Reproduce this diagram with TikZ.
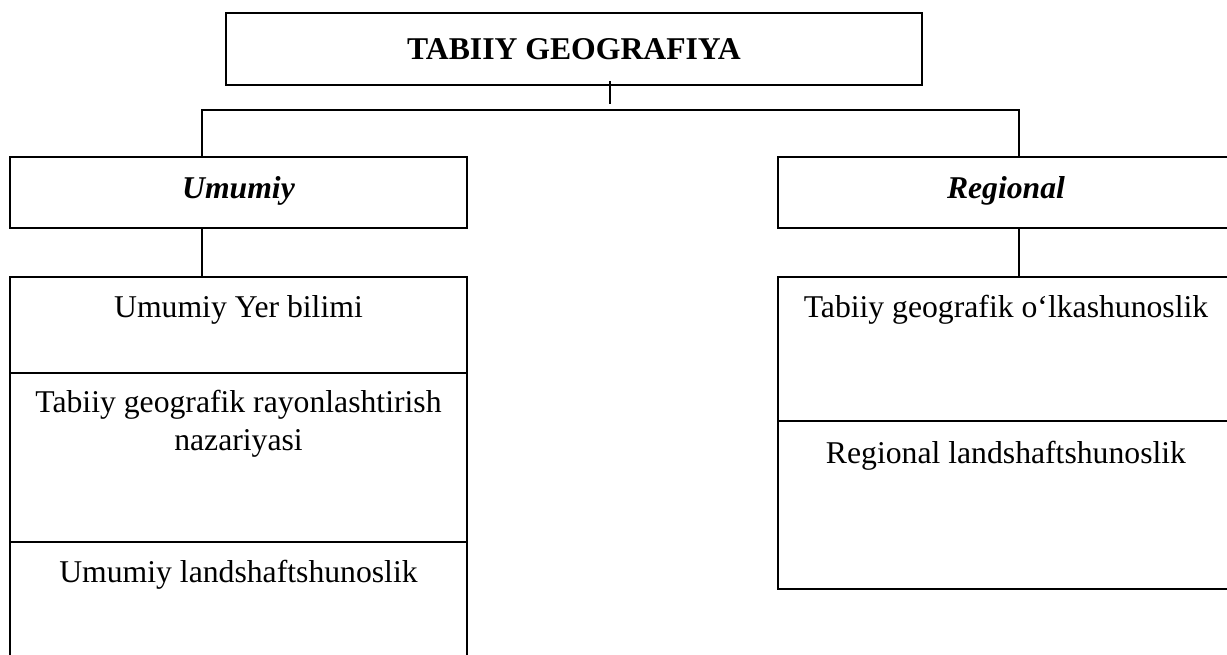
\documentclass[tikz,border=0pt]{standalone}
\usepackage{fontspec}
\setmainfont{Liberation Serif}
\begin{document}
\begin{tikzpicture}[x=1pt,y=-1pt,
  box/.style={draw,line width=1.5pt,rectangle,inner sep=0pt,outer sep=0pt},
  lbl/.style={inner sep=0pt,anchor=base,align=center,font=\fontsize{31.7}{38}\selectfont},
  conn/.style={line width=1.5pt}]
\useasboundingbox (0,0) rectangle (1227,655);
\clip (0,0) rectangle (1227,655);
% boxes
\node[box,minimum width=696pt,minimum height=72pt] (top) at (574,49) {};
\node[box,minimum width=457pt,minimum height=71pt] (U) at (238.5,192.5) {};
\node[box,minimum width=456pt,minimum height=71pt] (R) at (1006,192.5) {};
\node[box,minimum width=457pt,minimum height=96pt] (A1) at (238.5,325) {};
\node[box,minimum width=457pt,minimum height=169pt] (A2) at (238.5,457.5) {};
\node[box,minimum width=457pt,minimum height=158pt] (A3) at (238.5,621) {};
\node[box,minimum width=456pt,minimum height=144pt] (B1) at (1006,349) {};
\node[box,minimum width=456pt,minimum height=168pt] (B2) at (1006,505) {};
% texts
\node[lbl,font=\fontsize{31.7}{38}\selectfont\bfseries] (tt) at (574,60) {TABIIY GEOGRAFIYA};
\node[lbl,font=\fontsize{31.7}{38}\selectfont\bfseries\itshape] (tU) at (238.5,199) {Umumiy};
\node[lbl,font=\fontsize{31.7}{38}\selectfont\bfseries\itshape] (tR) at (1006,199) {Regional};
\node[lbl] (tA1) at ([yshift=-41pt]A1.north) {Umumiy Yer bilimi};
\node[lbl] (tA2) at ([yshift=-77pt]A2.north) {Tabiiy geografik rayonlashtirish\\nazariyasi};
\node[lbl] (tA3) at ([yshift=-40pt]A3.north) {Umumiy landshaftshunoslik};
\node[lbl] (tB1) at ([yshift=-41pt]B1.north) {Tabiiy geografik o‘lkashunoslik};
\node[lbl] (tB2) at ([yshift=-42pt]B2.north) {Regional landshaftshunoslik};
% connectors
\coordinate (t1) at (610,81);
\coordinate (t2) at (610,104);
\draw[conn] (t1) -- (t2);
\coordinate (busL) at (202,110);
\coordinate (busR) at (1019,110);
\draw[conn] (busL |- U.north) -- (busL) -- (busR) -- (busR |- R.north);
\draw[conn] (busL |- U.south) -- (busL |- A1.north);
\draw[conn] (busR |- R.south) -- (busR |- B1.north);
\end{tikzpicture}
\end{document}
